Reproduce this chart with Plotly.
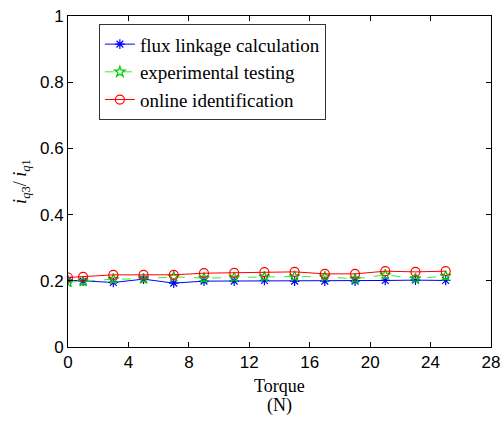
import plotly.graph_objects as go

torque = [0, 1, 3, 5, 7, 9, 11, 13, 15, 17, 19, 21, 23, 25]
flux_linkage = [0.202, 0.199, 0.195, 0.205, 0.193, 0.199, 0.199, 0.201, 0.199, 0.199, 0.199, 0.201, 0.202, 0.201]
experimental = [0.196, 0.198, 0.205, 0.206, 0.212, 0.208, 0.210, 0.212, 0.213, 0.212, 0.206, 0.218, 0.207, 0.214]
online_ident = [0.210, 0.212, 0.218, 0.218, 0.218, 0.223, 0.224, 0.226, 0.227, 0.221, 0.221, 0.229, 0.227, 0.229]

x_ticks = [0, 4, 8, 12, 16, 20, 24, 28]
y_ticks = [0, 0.2, 0.4, 0.6, 0.8, 1]
y_tick_text = ["0", "0.2", "0.4", "0.6", "0.8", "1"]

fig = go.Figure()
fig.add_trace(go.Scatter(x=torque, y=flux_linkage, mode="lines+markers",
                         name="flux linkage calculation",
                         line=dict(color="#0000ff", width=1),
                         marker=dict(symbol="asterisk-open", size=8, color="#0000ff",
                                     line=dict(color="#0000ff", width=1.2))))
fig.add_trace(go.Scatter(x=torque, y=experimental, mode="lines+markers",
                         name="experimental testing",
                         line=dict(color="#33ee33", width=1, dash="dash"),
                         marker=dict(symbol="star-open", size=8, color="#00cc00",
                                     line=dict(color="#00cc00", width=1.2))))
fig.add_trace(go.Scatter(x=torque, y=online_ident, mode="lines+markers",
                         name="online identification",
                         line=dict(color="#ff0000", width=1),
                         marker=dict(symbol="circle-open", size=9, color="#ff0000",
                                     line=dict(color="#ff0000", width=1.2))))

axis_common = dict(showgrid=False, zeroline=False, showline=True, linecolor="black",
                   linewidth=1, mirror="ticks", ticks="inside", ticklen=5,
                   tickcolor="black", automargin=False,
                   tickfont=dict(family="Liberation Sans, Arial", size=17, color="black"))

fig.update_xaxes(range=[0, 28], tickvals=x_ticks, **axis_common)
fig.update_yaxes(range=[0, 1], tickvals=y_ticks, ticktext=y_tick_text,
                 title=dict(text="<i>i</i><sub><i>q</i>3</sub>/ <i>i</i><sub><i>q</i>1</sub>", standoff=8,
                            font=dict(family="Liberation Serif, Times New Roman", size=18, color="black")),
                 **axis_common)

title_font = dict(family="Liberation Serif, Times New Roman", size=18, color="black")
fig.add_annotation(text="Torque", xref="paper", yref="paper", x=0.5, y=0, yshift=-39,
                   xanchor="center", yanchor="middle", showarrow=False, font=title_font)
fig.add_annotation(text="(N)", xref="paper", yref="paper", x=0.5, y=0, yshift=-58,
                   xanchor="center", yanchor="middle", showarrow=False, font=title_font)

fig.update_layout(
    width=502, height=421,
    margin=dict(l=68, r=11, t=16, b=74),
    paper_bgcolor="white", plot_bgcolor="white",
    legend=dict(x=0.073, y=0.975, xanchor="left", yanchor="top",
                bgcolor="white", bordercolor="#333333", borderwidth=1,
                font=dict(family="Liberation Serif, Times New Roman", size=19, color="black"),
                tracegroupgap=0, itemwidth=30),
    showlegend=True,
)

fig.write_html("out.html")
